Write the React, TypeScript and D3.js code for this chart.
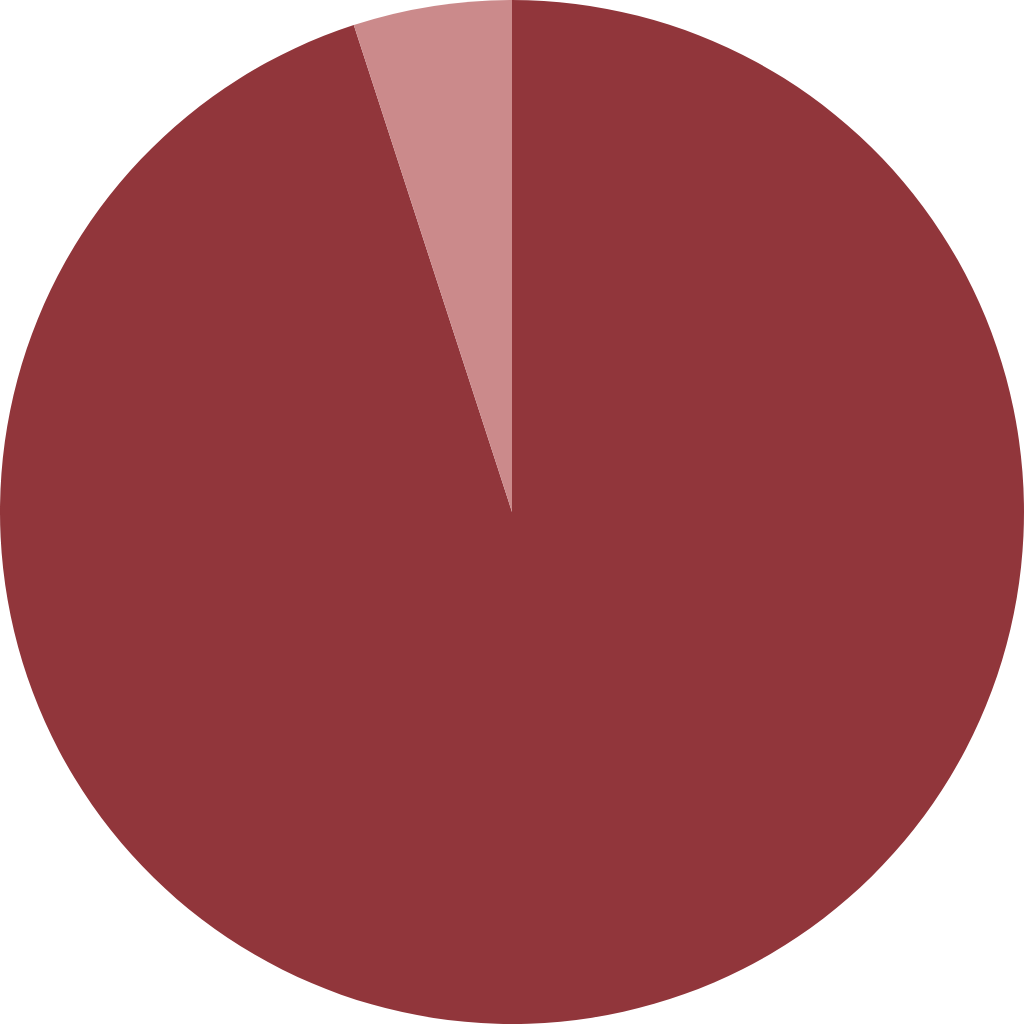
import { useEffect, useRef } from 'react'
import * as d3 from 'd3'

const labels = ['Main', 'Other']
const values = [95, 5]
const colors = ['#91363B', '#CB8A8B']

export default function App() {
  const ref = useRef<SVGSVGElement>(null)

  useEffect(() => {
    if (!ref.current) return
    document.body.style.margin = '0'
    const size = 1024
    const r = size / 2
    const svg = d3.select(ref.current)
    svg.selectAll('*').remove()

    const data = labels.map((l, i) => ({ label: l, value: values[i], color: colors[i] }))
    const pie = d3.pie<{ label: string; value: number; color: string }>().sort(null).value(d => d.value)
    const arc = d3.arc<d3.PieArcDatum<{ label: string; value: number; color: string }>>().innerRadius(0).outerRadius(r)

    const g = svg.append('g').attr('transform', `translate(${r},${r})`)
    g.selectAll('path')
      .data(pie(data))
      .join('path')
      .attr('d', arc)
      .attr('fill', d => d.data.color)
  }, [])

  return <svg ref={ref} width={1024} height={1024} style={{ display: 'block' }} />
}
